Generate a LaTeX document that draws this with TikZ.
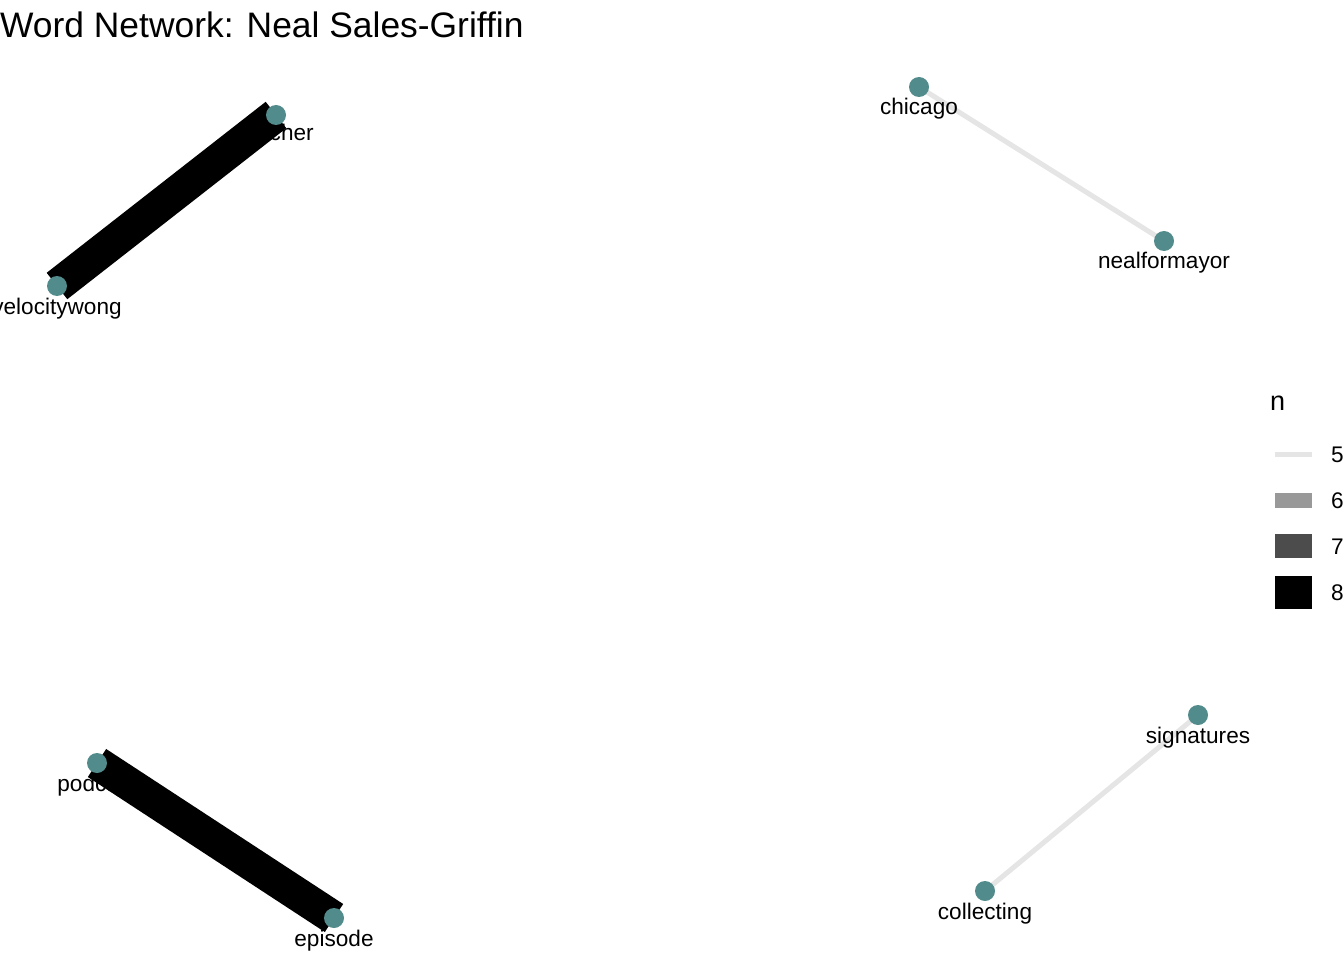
\documentclass[tikz,border=0pt]{standalone}
\usepackage{fontspec}
\setmainfont{Liberation Sans}

\tikzset{
    dot/.style={circle, fill=ptteal, inner sep=0pt, minimum size=20pt},
    word/.style={font=\fontsize{22.6}{27}\selectfont, anchor=base, inner sep=0pt},
    keytext/.style={font=\fontsize{22.6}{27}\selectfont, anchor=base west, inner sep=0pt},
    keybar/.style={rectangle, inner sep=0pt, minimum width=37pt, fill=black},
    nfive/.style={draw=black, draw opacity=0.1, line width=5pt},
    neight/.style={draw=black, line width=33.5pt}
}

\begin{document}
\begin{tikzpicture}[x=1pt, y=-1pt]

    % Colors
    \definecolor{ptteal}{RGB}{82,139,139}

    \useasboundingbox (0,0) rectangle (1344,960);
    \clip (0,0) rectangle (1344,960);
    \fill[white] (0,0) rectangle (1344,960);

    % Title
    \node[anchor=base west, inner sep=0pt, font=\fontsize{35.4}{42}\selectfont] (title) at (0,38) {Word Network: Neal Sales-Griffin};

    % Word positions
    \coordinate (teacher) at (276,115);
    \coordinate (velocitywong) at (57,286);
    \coordinate (chicago) at (919,87);
    \coordinate (nealformayor) at (1164,241);
    \coordinate (podcast) at (97,763);
    \coordinate (episode) at (334,918);
    \coordinate (signatures) at (1198,715);
    \coordinate (collecting) at (985,891);

    % Labels
    \node[word] (teacherlbl) at (276,141) {teacher};
    \node[word] (velocitywonglbl) at (57,314) {velocitywong};
    \node[word] (chicagolbl) at (919,115) {chicago};
    \node[word] (nealformayorlbl) at (1164,269) {nealformayor};
    \node[word] (podcastlbl) at (97,791) {podcast};
    \node[word] (episodelbl) at (334,946) {episode};
    \node[word] (signatureslbl) at (1198,743) {signatures};
    \node[word] (collectinglbl) at (985,919) {collecting};

    % Edges
    \draw[neight] (velocitywong) -- (teacher);
    \draw[neight] (podcast) -- (episode);
    \draw[nfive] (chicago) -- (nealformayor);
    \draw[nfive] (collecting) -- (signatures);

    % Points
    \node[dot] (teacherdot) at (teacher) {};
    \node[dot] (velocitywongdot) at (velocitywong) {};
    \node[dot] (chicagodot) at (chicago) {};
    \node[dot] (nealformayordot) at (nealformayor) {};
    \node[dot] (podcastdot) at (podcast) {};
    \node[dot] (episodedot) at (episode) {};
    \node[dot] (signaturesdot) at (signatures) {};
    \node[dot] (collectingdot) at (collecting) {};

    % Legend
    \node[keytext, font=\fontsize{27}{32}\selectfont] (keytitle) at (1270,410) {n};
    \node[keybar, fill opacity=0.1, minimum height=5pt] (keyfive) at (1293.5,454) {};
    \node[keybar, fill opacity=0.4, minimum height=14.5pt] (keysix) at (1293.5,500.5) {};
    \node[keybar, fill opacity=0.7, minimum height=24pt] (keyseven) at (1293.5,546.3) {};
    \node[keybar, minimum height=33.7pt] (keyeight) at (1293.5,592.5) {};
    \node[keytext] (labfive) at (1331,462.5) {5};
    \node[keytext] (labsix) at (1331,508.5) {6};
    \node[keytext] (labseven) at (1331,554.5) {7};
    \node[keytext] (labeight) at (1331,600.5) {8};

\end{tikzpicture}
\end{document}
